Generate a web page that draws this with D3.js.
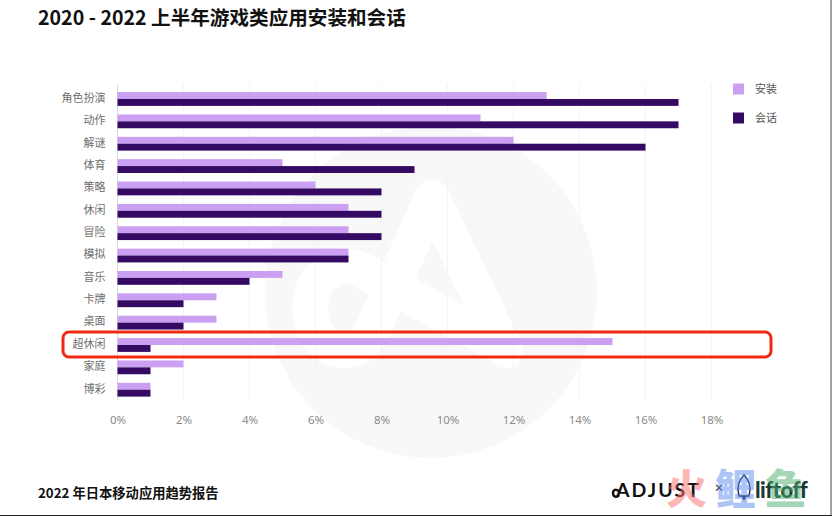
<!DOCTYPE html>
<html><head><meta charset="utf-8">
<script src="https://cdn.jsdelivr.net/npm/d3@7"></script>
<style>
html,body{margin:0;padding:0;background:#fff;overflow:hidden}
text{font-family:"Noto Sans CJK SC","Noto Sans",sans-serif}
</style></head><body>
<svg id="c" width="832" height="516"></svg>
<script>
const categories=["角色扮演","动作","解谜","体育","策略","休闲","冒险","模拟","音乐","卡牌","桌面","超休闲","家庭","博彩"];
const installs=[13,11,12,5,6,7,7,7,5,3,3,15,2,1];
const sessions=[17,17,16,9,8,8,8,7,4,2,2,1,1,1];
const xTicks=[0,2,4,6,8,10,12,14,16,18];
const seriesNames=["安装","会话"];
const seriesColors=["#cb9ff2","#340a63"];
const highlighted="超休闲";

const svg=d3.select("#c");
const x=d3.scaleLinear().domain([0,18]).range([117.5,711.5]);
const y=d3.scaleBand().domain(categories).range([87.8,400.9]);
const inner=d3.scaleBand().domain(seriesNames).range([y.bandwidth()/2-6.9,y.bandwidth()/2+6.9]);

// watermark
const wm=svg.append("g");
wm.append("circle").attr("cx",431).attr("cy",292).attr("r",166).attr("fill","#f8f8f9");
wm.append("path").attr("fill","none").attr("stroke","#fff").attr("stroke-width",36)
 .attr("stroke-linecap","round").attr("stroke-linejoin","round")
 .attr("d","M505 350 L432 198 L375 325 C365 350 340 358 322 340 C305 322 305 285 330 270 C350 258 370 275 408 295 L505 348");

// gridlines
svg.append("g").selectAll("line").data(xTicks.slice(1)).join("line")
 .attr("x1",d=>x(d)).attr("x2",d=>x(d)).attr("y1",84).attr("y2",401)
 .attr("stroke","#f4f4f5").attr("stroke-width",1);

// axes
const axisG=svg.append("g").attr("transform","translate(0,420)")
 .call(d3.axisBottom(x).tickValues(xTicks).tickFormat(d=>d+"%").tickSize(0).tickPadding(0));
axisG.select(".domain").remove();
axisG.selectAll("text").attr("font-size",11.5).attr("fill","#8a8a8a").attr("dy","0.35em")
 .attr("style",'font-family:"Noto Sans",sans-serif');
const yAxisG=svg.append("g").attr("transform","translate(105.5,-0.7)")
 .call(d3.axisLeft(y).tickSize(0).tickPadding(0));
yAxisG.select(".domain").remove();
yAxisG.selectAll("text").attr("font-size",11).attr("fill","#6e6e6e");
svg.append("line").attr("x1",117.5).attr("x2",117.5).attr("y1",84).attr("y2",401).attr("stroke","#dcdae0");

// bars
[installs,sessions].forEach((vals,i)=>{
 svg.append("g").selectAll("rect").data(vals).join("rect")
  .attr("x",x(0))
  .attr("y",(d,j)=>y(categories[j])+inner(seriesNames[i]))
  .attr("width",d=>x(d)-x(0))
  .attr("height",inner.bandwidth())
  .attr("fill",seriesColors[i]);
});

// highlight box
svg.append("rect").attr("x",63).attr("width",708)
 .attr("y",y(highlighted)+y.bandwidth()/2-13).attr("height",25).attr("rx",6)
 .attr("fill","none").attr("stroke","#ee2a12").attr("stroke-width",3);

// legend
const lg=svg.append("g").selectAll("g").data(seriesNames).join("g")
 .attr("transform",(d,i)=>`translate(733,${89+i*29})`);
lg.append("rect").attr("x",0).attr("y",-5.5).attr("width",11).attr("height",11).attr("fill",(d,i)=>seriesColors[i]);
lg.append("text").attr("x",22).attr("dy","0.36em").attr("font-size",11).attr("fill","#555").text(d=>d);

// title, footer
svg.append("text").attr("x",38).attr("y",24.5).attr("font-size",19.6).attr("font-weight",700).attr("fill","#111").text("2020 - 2022 上半年游戏类应用安装和会话");
svg.append("text").attr("x",38).attr("y",498).attr("font-size",13.3).attr("font-weight",700).attr("fill","#111").text("2022 年日本移动应用趋势报告");

// logos
svg.append("text").attr("x",616).attr("y",497).attr("font-size",19.5).attr("font-weight",700).attr("letter-spacing",2).attr("fill","#111").attr("style",'font-family:"Lato",sans-serif').text("ADJUST");
svg.append("path").attr("d","M620 492 C616 488 613 490 613 493 C613 497 617 498 619 495").attr("fill","none").attr("stroke","#111").attr("stroke-width",2.4);
svg.append("text").attr("x",714).attr("y",492).attr("font-size",10).attr("font-weight",700).attr("fill","#222").text("×");
svg.append("path").attr("d","M744 475 C738 481 737 489 739 496 L749 496 C751 489 750 481 744 475 Z").attr("fill","none").attr("stroke","#1b2340").attr("stroke-width",1.4);
svg.append("path").attr("d","M741.5 496 L746.5 496 L744 501 Z").attr("fill","#1b2340");
svg.append("text").attr("x",755).attr("y",498).attr("font-size",22).attr("font-weight",900).attr("fill","#1c3a34").attr("letter-spacing",-0.5).attr("style",'font-family:"Lato",sans-serif').text("liftoff");

// overlaid site watermark
[["火",666,"#f9706f"],["鲤",715,"#5b8def"],["鱼",765,"#4caf6e"]].forEach(([t,xx,col])=>{
 svg.append("text").attr("x",xx).attr("y",504).attr("font-size",41).attr("font-weight",900).attr("fill",col).attr("opacity",0.5).text(t);
});
// photo edge
svg.append("line").attr("x1",0).attr("x2",832).attr("y1",515.5).attr("y2",515.5).attr("stroke","#222");
svg.append("line").attr("x1",831).attr("x2",831).attr("y1",0).attr("y2",516).attr("stroke","#444");
</script></body></html>
